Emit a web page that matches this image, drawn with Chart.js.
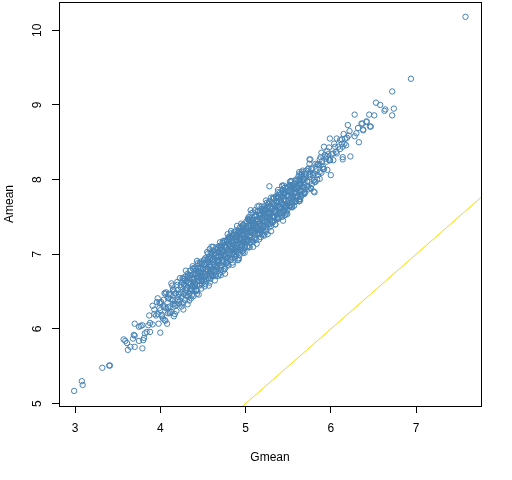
<!DOCTYPE html>
<html lang="en">
<head>
    <meta charset="UTF-8">
    <title>Amean vs Gmean</title>
    <style>
        body { margin: 0; background: #fff; }
        #chart { display: block; }
    </style>
</head>
<body>
<canvas id="chart" width="512" height="480"></canvas>

<script src="https://cdn.jsdelivr.net/npm/chart.js"></script>
<script>
    // Axis ticks and ranges
    const xTicks = [3, 4, 5, 6, 7];
    const yTicks = [5, 6, 7, 8, 9, 10];
    const xRange = [2.812, 7.762];
    const yRange = [4.968, 10.378];
    const abline = [0, 1]; // intercept, slope (reference line)

    // sparse lower tail
    const gmeanLow = [2.99,3.08,3.09,3.32,3.40,3.41,3.57,3.59,3.61,3.62,3.65,3.68,3.69,3.70,3.70,3.70,3.75,3.75,3.77,3.79,3.79,3.80,3.81,3.82,3.84,3.86,3.87,3.88,3.88,3.91,3.93,3.97,3.97,3.99,4.00,4.00,4.03,4.05,4.05,4.08,4.11,4.11,4.15,4.15,4.17,4.17,4.24,4.25,4.27,4.27,4.28,4.29,4.34,4.38,4.43,4.44,4.74,4.76];
    const ameanLow = [5.17,5.30,5.25,5.48,5.51,5.51,5.86,5.84,5.81,5.72,5.76,5.87,5.92,5.76,6.07,5.91,5.84,6.03,6.04,5.74,6.05,5.85,5.88,5.94,5.96,6.05,6.18,6.08,5.96,6.31,6.20,6.20,6.41,6.35,5.95,6.34,6.14,6.29,6.48,6.07,6.23,6.45,6.33,6.52,6.20,6.34,6.56,6.34,6.26,6.67,6.67,6.65,6.38,6.81,6.47,6.81,6.78,6.74];

    // dense core of the band
    const gmeanCore = [
        3.91,3.93,3.95,3.96,3.98,3.99,
        4.01,4.02,4.04,4.05,4.06,4.07,4.09,4.09,
        4.10,4.11,4.12,4.13,4.14,4.15,4.16,4.17,4.18,4.19,
        4.20,4.21,4.21,4.22,4.23,4.24,4.25,4.26,4.27,4.28,4.29,4.29,
        4.30,4.31,4.31,4.32,4.33,4.34,4.35,4.35,4.36,4.37,4.38,4.38,4.39,4.39,
        4.40,4.41,4.41,4.42,4.43,4.43,4.44,4.45,4.45,4.46,4.47,4.47,4.48,4.48,4.49,4.49,
        4.50,4.51,4.51,4.52,4.53,4.53,4.54,4.55,4.55,4.56,4.56,4.57,4.57,4.58,4.58,4.59,4.59,4.60,
        4.61,4.61,4.62,4.62,4.63,4.64,4.64,4.65,4.65,4.66,4.67,4.67,4.68,4.68,4.69,4.69,4.70,4.70,
        4.71,4.71,4.72,4.72,4.73,4.74,4.74,4.75,4.75,4.76,4.76,4.77,4.77,4.78,4.78,4.79,4.79,4.80,
        4.81,4.81,4.82,4.82,4.83,4.84,4.84,4.85,4.85,4.86,4.86,4.87,4.88,4.88,4.89,4.89,4.90,4.90,
        4.91,4.91,4.92,4.93,4.93,4.94,4.94,4.95,4.95,4.96,4.96,4.97,4.97,4.98,4.98,4.99,4.99,5.00,
        5.01,5.01,5.02,5.02,5.03,5.04,5.04,5.05,5.05,5.06,5.06,5.07,5.07,5.08,5.08,5.09,5.09,5.10,
        5.11,5.11,5.12,5.12,5.13,5.14,5.14,5.15,5.15,5.16,5.16,5.17,5.17,5.18,5.18,5.19,5.19,5.20,
        5.21,5.21,5.22,5.22,5.23,5.24,5.24,5.25,5.25,5.26,5.26,5.27,5.27,5.28,5.28,5.29,5.29,5.30,
        5.31,5.31,5.32,5.32,5.33,5.34,5.34,5.35,5.35,5.36,5.36,5.37,5.37,5.38,5.38,5.39,5.39,5.40,
        5.41,5.41,5.42,5.43,5.43,5.44,5.44,5.45,5.45,5.46,5.46,5.47,5.47,5.48,5.48,5.49,5.49,5.50,
        5.51,5.52,5.52,5.53,5.54,5.54,5.55,5.55,5.56,5.57,5.57,5.58,5.59,5.59,
        5.60,5.61,5.62,5.62,5.63,5.64,5.65,5.66,5.66,5.67,5.68,5.69,
        5.70,5.71,5.72,5.73,5.74,5.75,5.76,5.77,5.78,5.79,
        5.80,5.82,5.83,5.84,5.86,5.87,5.88,5.89,
        5.90,5.92,5.93,5.95,5.96,5.97,5.99,
        6.01,6.03,6.05,6.07,6.09,
        6.11,6.13,6.16,6.19
    ];
    const ameanCore = [
        6.06,6.26,6.18,6.36,6.07,6.28,
        6.36,6.19,6.31,6.12,6.47,6.28,6.41,6.21,
        6.47,6.30,6.40,6.23,6.58,6.39,6.50,6.31,6.48,6.24,
        6.59,6.43,6.52,6.34,6.68,6.49,6.42,6.62,6.35,6.57,6.49,6.70,
        6.45,6.64,6.54,6.74,6.43,6.62,6.53,6.72,6.41,6.68,6.59,6.84,6.52,6.65,
        6.74,6.60,6.81,6.51,6.70,6.59,6.88,6.69,6.77,6.58,6.83,6.68,6.77,6.54,6.88,6.66,
        6.80,6.64,6.92,6.74,6.87,6.60,6.80,6.93,6.72,7.01,6.79,6.68,6.89,6.83,6.62,6.95,6.78,7.02,
        6.77,6.92,7.05,6.71,6.90,6.84,7.01,6.71,6.98,6.90,7.07,6.81,6.97,6.71,7.04,6.90,7.16,6.82,
        6.99,6.79,7.11,6.91,7.06,6.89,7.18,7.00,6.80,7.12,6.98,7.08,6.88,7.19,6.96,7.06,6.86,7.14,
        7.01,7.19,6.92,7.11,7.28,7.00,7.16,7.08,6.89,7.26,7.12,7.00,7.23,7.07,7.32,6.98,7.20,7.12,
        7.28,7.05,7.19,6.99,7.35,7.15,7.27,7.06,7.41,7.21,7.13,7.35,7.05,7.28,7.21,7.34,7.02,7.41,
        7.19,7.35,7.11,7.30,7.47,7.19,7.35,7.29,7.10,7.45,7.26,7.33,7.19,7.44,7.30,7.56,7.17,7.39,
        7.27,7.51,7.39,7.19,7.46,7.35,7.57,7.28,7.45,7.20,7.53,7.41,7.28,7.52,7.37,7.64,7.44,7.35,
        7.53,7.31,7.61,7.45,7.51,7.30,7.60,7.43,7.69,7.40,7.56,7.49,7.68,7.36,7.54,7.64,7.46,7.76,
        7.51,7.68,7.43,7.61,7.76,7.50,7.66,7.40,7.60,7.75,7.57,7.71,7.50,7.65,7.83,7.48,7.70,7.63,
        7.79,7.56,7.70,7.50,7.85,7.66,7.77,7.57,7.92,7.65,7.82,7.72,7.53,7.88,7.65,7.79,7.59,7.85,
        7.72,7.93,7.65,7.84,7.72,7.98,7.63,7.82,7.92,7.73,7.90,7.82,7.98,7.71,
        7.89,7.76,8.04,7.85,7.97,7.74,7.93,8.04,7.84,8.12,7.89,8.01,
        7.83,8.07,7.98,7.90,8.15,7.97,8.07,7.88,8.15,8.06,
        7.99,8.21,8.11,8.00,8.19,8.10,8.30,8.09,
        8.25,8.14,8.33,8.24,8.13,8.34,8.26,
        8.34,8.26,8.44,8.35,8.44,
        8.41,8.54,8.48,8.56
    ];

    // second read of the dense core
    const gmeanFill = [
        4.00,4.02,4.04,4.06,4.07,4.09,
        4.10,4.11,4.13,4.14,4.15,4.16,4.18,4.19,
        4.20,4.21,4.22,4.23,4.24,4.25,4.26,4.27,4.28,4.29,
        4.30,4.31,4.32,4.32,4.33,4.34,4.35,4.36,4.36,4.37,4.38,4.39,
        4.40,4.41,4.42,4.42,4.43,4.44,4.44,4.45,4.46,4.46,4.47,4.48,4.48,4.49,
        4.50,4.51,4.51,4.52,4.53,4.53,4.54,4.54,4.55,4.56,4.56,4.57,4.57,4.58,4.59,4.59,
        4.60,4.61,4.61,4.62,4.63,4.63,4.64,4.64,4.65,4.66,4.66,4.67,4.67,4.68,4.69,4.69,
        4.70,4.71,4.71,4.72,4.73,4.73,4.74,4.74,4.75,4.76,4.76,4.77,4.77,4.78,4.79,4.79,
        4.80,4.81,4.81,4.82,4.83,4.83,4.84,4.84,4.85,4.86,4.86,4.87,4.87,4.88,4.89,4.89,
        4.90,4.91,4.91,4.92,4.93,4.93,4.94,4.94,4.95,4.96,4.96,4.97,4.97,4.98,4.99,4.99,
        5.00,5.01,5.01,5.02,5.03,5.03,5.04,5.04,5.05,5.06,5.06,5.07,5.07,5.08,5.09,5.09,
        5.10,5.11,5.11,5.12,5.13,5.13,5.14,5.14,5.15,5.16,5.16,5.17,5.17,5.18,5.19,5.19,
        5.20,5.21,5.21,5.22,5.23,5.23,5.24,5.24,5.25,5.26,5.26,5.27,5.27,5.28,5.29,5.29,
        5.30,5.31,5.31,5.32,5.33,5.33,5.34,5.34,5.35,5.36,5.36,5.37,5.37,5.38,5.39,5.39,
        5.40,5.41,5.41,5.42,5.43,5.43,5.44,5.44,5.45,5.46,5.46,5.47,5.47,5.48,5.49,5.49,
        5.50,5.51,5.52,5.53,5.53,5.54,5.55,5.56,5.57,5.57,5.58,5.59,
        5.60,5.61,5.62,5.63,5.64,5.65,5.66,5.67,5.68,5.69,
        5.70,5.72,5.73,5.74,5.76,5.77,5.78,5.79,
        5.81,5.82,5.84,5.85,5.87,5.88,
        5.91,5.94,5.96,5.98
    ];
    const ameanFill = [
        6.25,6.17,6.39,6.11,6.49,6.29,
        6.42,6.21,6.61,6.38,6.53,6.17,6.47,6.32,
        6.63,6.39,6.47,6.38,6.59,6.30,6.68,6.47,6.60,6.39,
        6.78,6.55,6.70,6.33,6.62,6.47,6.78,6.54,6.61,6.52,6.73,6.44,
        6.82,6.61,6.74,6.52,6.91,6.68,6.82,6.46,6.75,6.59,6.90,6.66,6.73,6.64,
        6.75,6.66,6.86,6.57,6.95,6.73,6.86,6.64,7.03,6.80,6.94,6.58,6.86,6.71,7.02,6.77,
        6.80,6.93,6.71,7.10,6.87,7.01,6.65,6.93,6.78,7.09,6.84,6.92,6.82,7.03,6.74,7.11,
        7.08,6.72,7.00,6.85,7.16,6.91,6.99,6.89,7.10,6.81,7.18,6.97,7.09,6.88,7.27,7.03,
        6.85,7.23,7.01,7.14,6.93,7.31,7.08,7.22,6.86,7.15,6.99,7.30,7.05,7.13,7.04,7.24,
        7.38,7.15,7.29,6.93,7.22,7.06,7.37,7.12,7.20,7.11,7.31,7.02,7.39,7.18,7.31,7.09,
        7.13,7.44,7.19,7.27,7.18,7.38,7.09,7.46,7.25,7.38,7.16,7.55,7.31,7.46,7.10,7.38,
        7.42,7.21,7.59,7.36,7.51,7.14,7.43,7.27,7.58,7.34,7.41,7.32,7.52,7.23,7.61,7.39,
        7.35,7.56,7.26,7.64,7.43,7.55,7.34,7.72,7.49,7.64,7.27,7.56,7.40,7.71,7.47,7.54,
        7.31,7.60,7.44,7.75,7.51,7.58,7.49,7.69,7.40,7.78,7.56,7.69,7.47,7.86,7.63,7.77,
        7.82,7.61,7.73,7.52,7.91,7.67,7.82,7.45,7.74,7.59,7.89,7.65,7.72,7.63,7.84,7.54,
        7.80,7.65,7.92,7.75,7.98,7.63,7.89,7.74,7.94,7.83,7.70,7.90,
        7.77,8.00,7.89,7.71,7.99,7.86,8.10,7.81,7.99,7.93,
        8.03,7.91,8.14,7.87,8.04,8.14,7.94,8.09,
        8.08,7.97,8.20,8.06,8.27,8.19,
        8.14,8.28,8.38,8.26
    ];

    // third read, middle of the band where it is solid
    const gmeanMid = [
        4.30,4.31,4.32,4.33,4.34,4.35,4.36,4.37,4.38,4.38,4.39,4.39,
        4.40,4.41,4.42,4.43,4.44,4.45,4.46,4.47,4.48,4.48,4.49,4.49,
        4.50,4.51,4.52,4.53,4.54,4.55,4.56,4.57,4.58,4.58,4.59,4.59,
        4.60,4.61,4.62,4.63,4.64,4.65,4.66,4.67,4.68,4.68,4.69,4.69,
        4.70,4.71,4.72,4.73,4.74,4.75,4.76,4.77,4.78,4.78,4.79,4.79,
        4.80,4.81,4.82,4.83,4.84,4.85,4.86,4.87,4.88,4.88,4.89,4.89,
        4.90,4.91,4.92,4.93,4.94,4.95,4.96,4.97,4.98,4.98,4.99,4.99,
        5.00,5.01,5.02,5.03,5.04,5.05,5.06,5.07,5.08,5.08,5.09,5.09,
        5.10,5.11,5.12,5.13,5.14,5.15,5.16,5.17,5.18,5.18,5.19,5.19,
        5.20,5.21,5.22,5.23,5.24,5.25,5.26,5.27,5.28,5.28,5.29,5.29,
        5.30,5.31,5.32,5.33,5.34,5.35,5.36,5.37,5.38,5.38,5.39,5.39,
        5.40,5.41,5.42,5.43,5.44,5.45,5.46,5.47,5.48,5.48,5.49,5.49,
        5.50,5.51,5.52,5.53,5.54,5.55,5.56,5.57,5.58,5.58,5.59,5.59,
        5.60,5.61,5.62,5.63,5.64,5.65,5.66,5.67,5.68,5.68,5.69,5.69
    ];
    const ameanMid = [
        6.52,6.64,6.44,6.72,6.61,6.51,6.72,6.45,6.68,6.57,6.80,6.63,
        6.67,6.57,6.78,6.51,6.74,6.64,6.87,6.71,6.70,6.81,6.61,6.88,
        6.80,6.70,6.93,6.77,6.76,6.88,6.68,6.96,6.85,6.74,6.95,6.67,
        6.72,7.00,6.89,6.79,7.00,6.73,6.96,6.86,7.09,6.92,6.91,7.02,
        7.06,6.79,7.02,6.92,7.15,6.99,6.98,7.10,6.90,7.17,7.06,6.95,
        7.21,7.05,7.04,7.16,6.96,7.24,7.13,7.03,7.24,6.96,7.19,7.08,
        7.23,7.03,7.31,7.20,7.10,7.31,7.04,7.27,7.17,7.39,7.23,7.21,
        7.16,7.37,7.10,7.33,7.23,7.46,7.30,7.29,7.41,7.20,7.48,7.36,
        7.29,7.52,7.36,7.35,7.47,7.27,7.55,7.44,7.34,7.54,7.27,7.49,
        7.59,7.48,7.38,7.59,7.32,7.55,7.45,7.68,7.52,7.50,7.62,7.41,
        7.38,7.61,7.51,7.74,7.58,7.57,7.69,7.49,7.77,7.65,7.55,7.75,
        7.64,7.63,7.75,7.55,7.83,7.72,7.62,7.83,7.56,7.78,7.68,7.90,
        7.72,7.84,7.64,7.92,7.81,7.71,7.92,7.65,7.88,7.77,8.00,7.83,
        7.87,7.77,7.98,7.71,7.94,7.84,8.07,7.91,7.90,8.01,7.81,8.08
    ];

    // edges of the band and the upper tail
    const gmeanHigh = [4.58,4.60,4.91,4.92,5.14,4.80,5.04,5.40,5.26,4.86,4.82,4.80,4.97,4.94,5.16,5.22,5.06,5.03,5.04,5.22,5.16,5.32,5.38,5.44,5.46,5.54,5.36,5.44,5.46,5.28,5.43,5.52,5.54,5.69,5.64,5.65,5.63,5.65,5.75,5.75,5.81,6.00,5.87,5.81,5.76,5.80,5.67,5.63,5.69,5.63,5.56,5.63,5.71,5.75,5.85,5.91,5.76,5.89,5.95,5.99,6.03,6.06,6.14,6.14,6.23,5.92,5.98,6.04,6.13,6.18,6.14,5.99,6.07,6.11,6.17,6.33,6.21,6.28,6.15,6.22,6.38,6.32,6.30,6.20,6.36,6.42,6.46,6.28,6.45,6.51,6.64,6.63,6.74,6.72,6.53,6.58,6.72,6.94,7.58,6.37,6.47,6.38,6.42];
    const ameanHigh = [7.07,7.10,6.92,6.95,7.64,7.23,7.50,7.54,7.63,7.28,7.23,7.14,7.39,7.30,7.32,7.25,7.59,7.48,7.45,7.61,7.65,7.43,7.48,7.57,7.52,7.65,7.77,7.86,7.81,7.91,7.92,7.97,7.91,7.82,7.72,7.77,8.07,8.06,8.27,8.21,7.83,8.06,8.01,7.97,7.89,7.84,8.01,7.95,7.81,7.74,7.77,8.10,8.12,8.06,8.21,8.17,8.27,8.36,8.31,8.26,8.35,8.37,8.30,8.27,8.31,8.44,8.43,8.48,8.48,8.46,8.44,8.55,8.55,8.53,8.55,8.50,8.59,8.58,8.61,8.65,8.66,8.69,8.62,8.73,8.75,8.77,8.71,8.87,8.87,8.86,8.94,8.92,8.95,8.86,9.03,9.00,9.18,9.35,10.18,8.75,8.71,8.67,8.78];

    const points = [];
    [[gmeanLow, ameanLow], [gmeanCore, ameanCore], [gmeanFill, ameanFill], [gmeanMid, ameanMid], [gmeanHigh, ameanHigh]].forEach(([g, a]) => {
        g.forEach((v, i) => points.push({ x: v, y: a[i] }));
    });
    const linePoints = xRange.map(x => ({ x: x, y: abline[0] + abline[1] * x }));

    const FONT = 'Arial, "Liberation Sans", sans-serif';
    Chart.defaults.font.family = FONT;
    Chart.defaults.font.size = 12;
    Chart.defaults.color = '#000';

    // box round the plot and rotated y tick labels (R style)
    const rStyle = {
        id: 'rStyle',
        afterDraw(chart) {
            const { ctx, chartArea: a, scales: { y } } = chart;
            ctx.save();
            ctx.strokeStyle = '#000';
            ctx.lineWidth = 1;
            ctx.strokeRect(a.left + 0.5, a.top + 0.5, a.right - a.left, a.bottom - a.top);
            ctx.fillStyle = '#000';
            ctx.font = '12px ' + FONT;
            ctx.textAlign = 'center';
            ctx.textBaseline = 'middle';
            y.ticks.forEach(t => {
                ctx.save();
                ctx.translate(38, y.getPixelForValue(t.value));
                ctx.rotate(-Math.PI / 2);
                ctx.fillText(String(t.value), 0, 0);
                ctx.restore();
            });
            ctx.restore();
        }
    };

    new Chart(document.getElementById('chart'), {
        type: 'scatter',
        data: {
            datasets: [{
                type: 'line',
                data: linePoints,
                borderColor: '#FFD700',
                borderWidth: 1,
                pointRadius: 0,
                fill: false
            }, {
                data: points,
                pointStyle: 'circle',
                pointRadius: 2.7,
                borderWidth: 1,
                borderColor: '#4682B4',
                backgroundColor: 'rgba(0,0,0,0)'
            }]
        },
        options: {
            responsive: false,
            animation: false,
            events: [],
            layout: { autoPadding: false, padding: { left: 0, top: 2, right: 31, bottom: 0 } },
            plugins: { legend: { display: false }, tooltip: { enabled: false } },
            scales: {
                x: {
                    type: 'linear',
                    min: xRange[0],
                    max: xRange[1],
                    afterBuildTicks: s => { s.ticks = xTicks.map(v => ({ value: v })); },
                    afterFit: s => { s.height = 74; s.paddingLeft = 0; s.paddingRight = 0; },
                    grid: { drawOnChartArea: false, drawTicks: true, tickLength: 7, color: '#000' },
                    border: { display: false },
                    ticks: { padding: 8, maxRotation: 0, font: { size: 12 } },
                    title: { display: true, text: 'Gmean', padding: { top: 0, bottom: 15 }, font: { size: 12 } }
                },
                y: {
                    type: 'linear',
                    min: yRange[0],
                    max: yRange[1],
                    afterBuildTicks: s => { s.ticks = yTicks.map(v => ({ value: v })); },
                    afterFit: s => { s.width = 59; s.paddingTop = 0; s.paddingBottom = 0; },
                    grid: { drawOnChartArea: false, drawTicks: true, tickLength: 7, color: '#000' },
                    border: { display: false },
                    ticks: { display: false },
                    title: { display: true, text: 'Amean', padding: { top: 2, bottom: 0 }, font: { size: 12 } }
                }
            }
        },
        plugins: [rStyle]
    });
</script>
</body>
</html>
